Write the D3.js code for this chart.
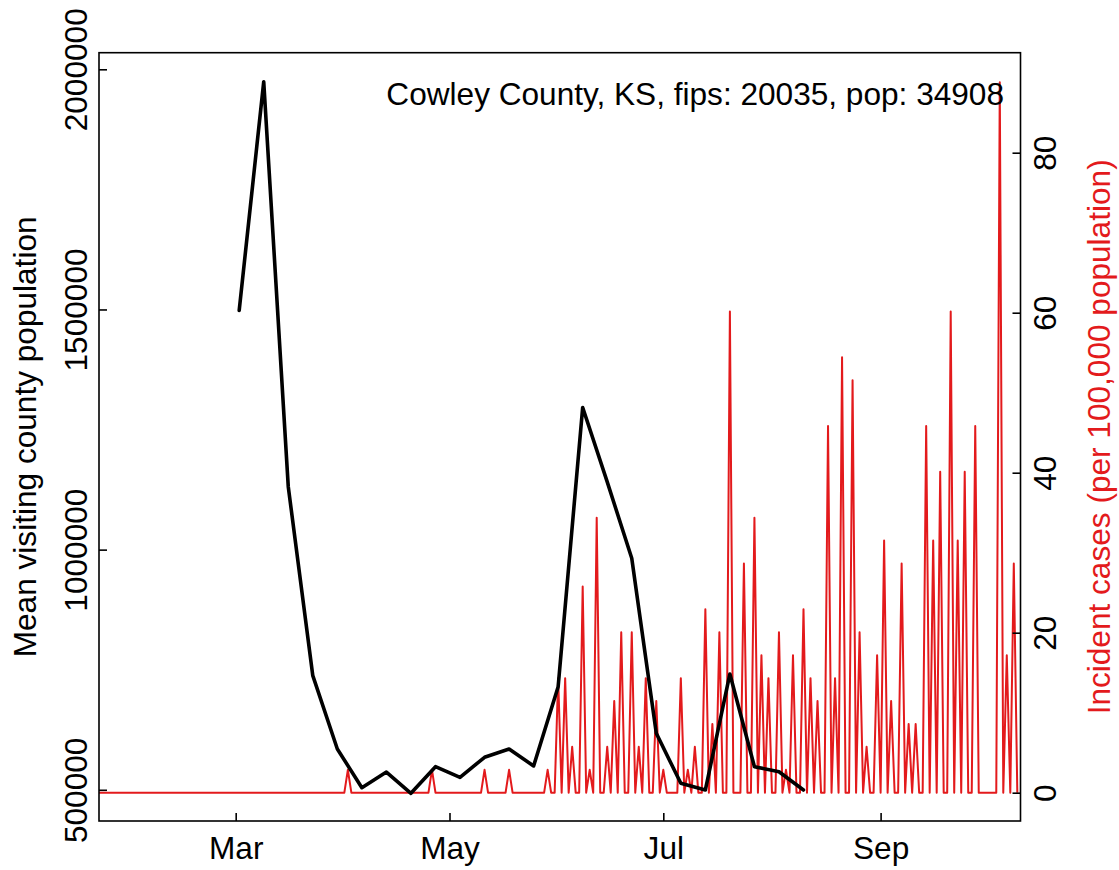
<!DOCTYPE html>
<html>
<head>
<meta charset="utf-8">
<script src="https://cdn.jsdelivr.net/npm/d3@7"></script>
<style>
  html, body { margin: 0; padding: 0; background: #fff; }
  svg { display: block; }
  text { font-family: "Liberation Sans", Arial, Helvetica, sans-serif; }
</style>
</head>
<body>
<svg id="chart" width="1119" height="870"></svg>
<script>
// ---------------- data ----------------
const titleText = "Cowley County, KS, fips: 20035, pop: 34908";
const leftAxisTitle = "Mean visiting county population";
const rightAxisTitle = "Incident cases (per 100,000 population)";

// weekly mean visiting county population (black line)
const mobilityDates = ["2020-03-02","2020-03-09","2020-03-16","2020-03-23","2020-03-30","2020-04-06",
  "2020-04-13","2020-04-20","2020-04-27","2020-05-04","2020-05-11","2020-05-18","2020-05-25",
  "2020-06-01","2020-06-08","2020-06-15","2020-06-22","2020-06-29","2020-07-06","2020-07-13",
  "2020-07-20","2020-07-27","2020-08-03","2020-08-10"];
const mobilityValues = [1498000,1974000,1131000,737600,585000,504400,
  537000,492700,548100,526000,567700,585000,549600,
  714700,1296000,1141000,982000,617600,513500,499600,
  741100,548100,537700,499600];

// daily incident cases per 100,000 (red line), starting 2020-01-22
const casesStart = "2020-01-22";
const casesValues = [
  // Jan 22 - Jan 31
  0,0,0,0,0,0,0,0,0,0,
  // Feb 1 - Feb 29
  0,0,0,0,0,0,0,0,0,0,0,0,0,0,0,0,0,0,0,0,0,0,0,0,0,0,0,0,0,
  // Mar 1 - Mar 31
  0,0,0,0,0,0,0,0,0,0,0,0,0,0,0,0,0,0,0,0,0,0,0,0,0,0,0,0,0,0,0,
  // Apr 1 - Apr 30
  0,2.86,0,0,0,0,0,0,0,0,0,0,0,0,0,0,0,0,0,0,0,0,0,0,0,2.86,0,0,0,0,
  // May 1 - May 31
  0,0,0,0,0,0,0,0,0,0,2.86,0,0,0,0,0,0,2.86,0,0,0,0,0,0,0,0,0,0,2.86,0,0,
  // Jun 1 - Jun 30
  14.32,0,14.32,0,5.73,0,0,25.78,0,2.86,0,34.38,0,0,5.73,0,11.46,0,20.05,0,0,20.05,0,5.73,0,14.32,0,0,11.46,0,
  // Jul 1 - Jul 31
  2.86,0,0,0,0,14.32,0,2.86,0,5.73,0,0,22.92,0,8.59,0,20.05,0,0,60.16,0,0,0,28.65,0,0,34.38,0,17.19,0,14.32,
  // Aug 1 - Aug 31
  0,0,20.05,0,2.86,0,17.19,0,0,22.92,0,14.32,0,11.46,0,0,45.84,0,14.32,0,54.43,0,0,51.56,0,20.05,0,5.73,0,0,17.19,
  // Sep 1 - Sep 30
  0,31.51,0,11.46,0,0,28.65,0,8.59,0,8.59,0,0,45.84,0,31.51,0,40.11,0,0,60.16,0,31.51,0,40.11,0,0,45.84,0,0,
  // Oct 1 - Oct 10
  0,0,0,0,88.81,0,17.19,0,28.65,0
];

const leftTicks = [500000, 1000000, 1500000, 2000000];
const rightTicks = [0, 20, 40, 60, 80];
const monthTicks = ["2020-03-01","2020-05-01","2020-07-01","2020-09-01"];
const monthLabels = ["Mar","May","Jul","Sep"];

// ---------------- layout ----------------
const box = { left: 99, right: 1020.5, top: 52.7, bottom: 821 };
const FS = 31.6;
const RED = "#e31a1c";

const parse = d3.utcParse("%Y-%m-%d");
const start = parse(casesStart);
const cases = casesValues.map((v, i) => ({ date: d3.utcDay.offset(start, i), value: v }));
const mobility = mobilityDates.map((d, i) => ({ date: parse(d), value: mobilityValues[i] }));

const x = d3.scaleUtc()
  .domain([parse("2020-01-22"), parse("2020-10-10")])
  .range([99, 1017.3]);
const yL = d3.scaleLinear().domain([500000, 2000000]).range([789.8, 69.3]);
const yR = d3.scaleLinear().domain([0, 80]).range([792.7, 152.7]);

const svg = d3.select("#chart");

// red cases line
svg.append("path")
  .datum(cases)
  .attr("fill", "none")
  .attr("stroke", RED)
  .attr("stroke-width", 2)
  .attr("stroke-linejoin", "round")
  .attr("d", d3.line().x(d => x(d.date)).y(d => yR(d.value)));

// black mobility line
svg.append("path")
  .datum(mobility)
  .attr("fill", "none")
  .attr("stroke", "#000")
  .attr("stroke-width", 3.6)
  .attr("stroke-linejoin", "round")
  .attr("stroke-linecap", "round")
  .attr("d", d3.line().x(d => x(d.date)).y(d => yL(d.value)));

// box
svg.append("rect")
  .attr("x", box.left).attr("y", box.top)
  .attr("width", box.right - box.left).attr("height", box.bottom - box.top)
  .attr("fill", "none").attr("stroke", "#000").attr("stroke-width", 1.6);

// left axis (ticks inward)
const gL = svg.append("g").attr("transform", `translate(${box.left},0)`)
  .call(d3.axisLeft(yL).tickValues(leftTicks).tickSize(-8).tickFormat(d3.format("d")));
gL.select(".domain").remove();
gL.selectAll("line").attr("stroke", "#000").attr("stroke-width", 1.6);
gL.selectAll("text")
  .attr("transform", "rotate(-90)")
  .attr("x", 0).attr("y", -12).attr("dy", null)
  .attr("text-anchor", "middle")
  .attr("font-size", FS).attr("font-family", "Liberation Sans, Arial, sans-serif").attr("fill", "#000");

// right axis (ticks inward)
const gR = svg.append("g").attr("transform", `translate(${box.right},0)`)
  .call(d3.axisRight(yR).tickValues(rightTicks).tickSize(-8).tickFormat(d3.format("d")));
gR.select(".domain").remove();
gR.selectAll("line").attr("stroke", "#000").attr("stroke-width", 1.6);
gR.selectAll("text")
  .attr("transform", "rotate(-90)")
  .attr("x", 0).attr("y", 35.5).attr("dy", null)
  .attr("text-anchor", "middle")
  .attr("font-size", FS).attr("font-family", "Liberation Sans, Arial, sans-serif").attr("fill", "#000");

// bottom axis (ticks inward)
const gB = svg.append("g").attr("transform", `translate(0,${box.bottom})`)
  .call(d3.axisBottom(x).tickValues(monthTicks.map(parse)).tickSize(-8)
    .tickFormat((d, i) => monthLabels[i]));
gB.select(".domain").remove();
gB.selectAll("line").attr("stroke", "#000").attr("stroke-width", 1.6);
gB.selectAll("text")
  .attr("y", 38).attr("dy", null)
  .attr("font-size", FS).attr("font-family", "Liberation Sans, Arial, sans-serif").attr("fill", "#000");

// axis titles
svg.append("text")
  .attr("transform", `translate(36,${(box.top + box.bottom) / 2}) rotate(-90)`)
  .attr("text-anchor", "middle").attr("font-size", FS).attr("fill", "#000")
  .text(leftAxisTitle);
svg.append("text")
  .attr("transform", `translate(1110,${(box.top + box.bottom) / 2}) rotate(-90)`)
  .attr("text-anchor", "middle").attr("font-size", FS).attr("fill", RED)
  .text(rightAxisTitle);

// county label
svg.append("text")
  .attr("x", 1004).attr("y", 105)
  .attr("text-anchor", "end").attr("font-size", FS).attr("fill", "#000")
  .text(titleText);
</script>
</body>
</html>
